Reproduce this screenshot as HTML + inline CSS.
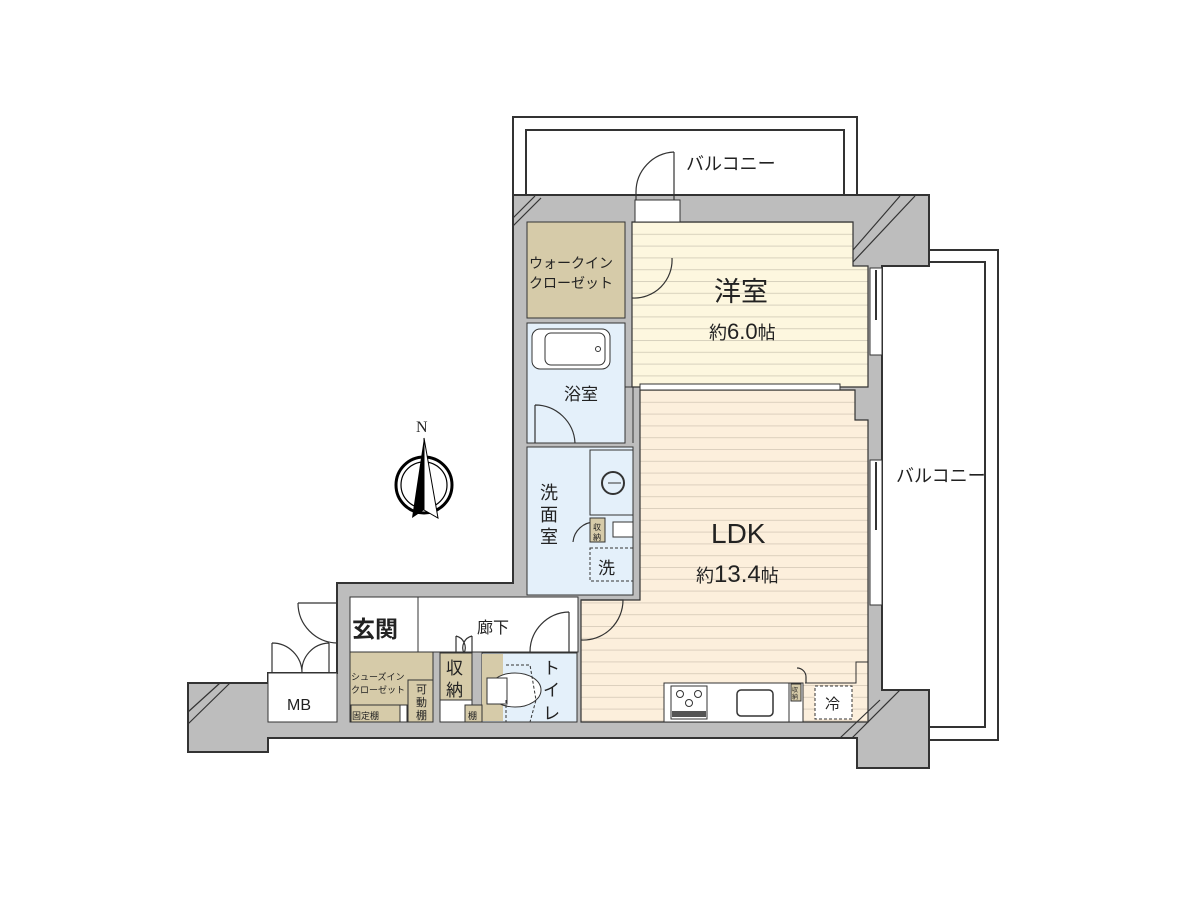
<!DOCTYPE html>
<html><head><meta charset="utf-8"><style>
html,body{margin:0;padding:0;background:#fff;}
svg{display:block;}
text{font-family:"Liberation Sans","Noto Sans CJK JP",sans-serif;fill:#222;}
</style></head><body>
<svg width="1200" height="900" viewBox="0 0 1200 900" xmlns="http://www.w3.org/2000/svg">
<defs>
<pattern id="st1" x="0" y="222" width="10" height="11.8" patternUnits="userSpaceOnUse">
<rect width="10" height="11.8" fill="#fdf7df"/><line x1="0" y1="0.5" x2="10" y2="0.5" stroke="#d8d2bd" stroke-width="1"/></pattern>
<pattern id="st2" x="0" y="390" width="10" height="11.8" patternUnits="userSpaceOnUse">
<rect width="10" height="11.8" fill="#fcefdc"/><line x1="0" y1="0.5" x2="10" y2="0.5" stroke="#dcd0bd" stroke-width="1"/></pattern>
</defs>

<rect x="513" y="117" width="344" height="80" fill="#fff" stroke="#333" stroke-width="2"/>
<path d="M526 195 V130 H844 V195" fill="none" stroke="#333" stroke-width="2"/>
<text x="686" y="170" font-size="18">バルコニー</text>
<rect x="882" y="250" width="116" height="490" fill="#fff" stroke="#333" stroke-width="2"/>
<rect x="882" y="262" width="103" height="465" fill="#fff" stroke="#333" stroke-width="2"/>
<text x="896" y="482" font-size="18">バルコニー</text>

<path d="M513 195 H929 V266 H882 V690 H929 V768 H857 V738 H268 V752 H188 V683 H268 V673 H337 V583 H513 Z" fill="#bdbdbd" stroke="#333" stroke-width="2"/>

<rect x="527" y="222" width="98" height="96" fill="#d6cba9" stroke="#333" stroke-width="1"/>
<path d="M632 222 H853 V266 H868 V387 H632 Z" fill="url(#st1)" stroke="#333" stroke-width="1.2"/>
<rect x="527" y="323" width="98" height="120" fill="#e4f0fa" stroke="#333" stroke-width="1"/>
<path d="M625 323 V387 H633 V443" fill="none" stroke="#333"/>
<rect x="527" y="447" width="106" height="148" fill="#e4f0fa" stroke="#333" stroke-width="1"/>
<path d="M640 390 H855 V420 H868 V722 H581 V600 H640 Z" fill="url(#st2)" stroke="#333" stroke-width="1.2"/>
<rect x="350" y="597" width="228" height="55" fill="#fff" stroke="#333" stroke-width="1"/>
<line x1="418" y1="597" x2="418" y2="652" stroke="#333"/>
<rect x="350" y="652" width="83" height="70" fill="#d6cba9" stroke="#333"/>
<rect x="440" y="653" width="32" height="47" fill="#d6cba9" stroke="#333"/>
<rect x="440" y="700" width="32" height="22" fill="#fff" stroke="#333"/>
<rect x="482" y="653" width="95" height="69" fill="#e4f0fa" stroke="#333"/>
<rect x="482" y="654" width="21" height="67" fill="#d6cba9" stroke="none"/>
<rect x="268" y="673" width="69" height="49" fill="#fff" stroke="#333"/>
<rect x="408" y="680" width="25" height="42" fill="#d6cba9" stroke="#333"/>
<rect x="351" y="705" width="54" height="17" fill="#d6cba9" stroke="#333"/>
<rect x="400" y="705" width="7" height="17" fill="#fff" stroke="#333"/>
<rect x="465" y="705" width="17" height="17" fill="#d6cba9" stroke="#333"/>

<g stroke="#333" stroke-width="1.2">
<line x1="513" y1="218" x2="535" y2="196"/><line x1="513" y1="226" x2="541" y2="198"/>
<line x1="853" y1="250" x2="900" y2="196"/><line x1="853" y1="262" x2="915" y2="196"/>
<line x1="188" y1="712" x2="220" y2="683"/><line x1="188" y1="724" x2="230" y2="683"/>
<line x1="840" y1="738" x2="880" y2="700"/><line x1="852" y1="738" x2="900" y2="690"/>
</g>

<g fill="#fff" stroke="#333">
<rect x="870" y="268" width="12" height="87"/><rect x="870" y="460" width="12" height="145"/>
<rect x="640" y="384" width="200" height="6"/>
<rect x="635" y="200" width="45" height="22"/>
</g>
<line x1="876" y1="270" x2="876" y2="320" stroke="#333" stroke-width="2"/>
<line x1="876" y1="462" x2="876" y2="530" stroke="#333" stroke-width="2"/>

<g fill="none" stroke="#333" stroke-width="1.2">
<path d="M674 152 V200 M674 152 A40 40 0 0 0 636 192 V200"/>
<path d="M632 298 A38 38 0 0 0 672 258"/>
<path d="M535 405 A40 40 0 0 1 575 443 M535 405 V443"/>
<path d="M573 542 A22 22 0 0 1 595 522"/>
<path d="M298 603 H337 M298 603 A40 40 0 0 0 337 643"/>
<path d="M272 643 V673 M272 643 A30 30 0 0 1 302 673 M329 643 V673 M329 643 A28 28 0 0 0 302 673"/>
<path d="M456 636 V653 M456 636 A12 12 0 0 1 464 653 M472 636 V653 M472 636 A12 12 0 0 0 464 653"/>
<path d="M569 612 V652 M569 612 A40 40 0 0 0 530 652"/>
<path d="M581 600 H623 A40 40 0 0 1 581 640"/>
<path d="M797 668 A9 9 0 0 1 806 677 V683"/>
</g>

<rect x="532" y="329" width="78" height="40" rx="8" fill="#fff" stroke="#333"/>
<rect x="545" y="333" width="60" height="32" rx="6" fill="none" stroke="#333"/>
<circle cx="598" cy="349" r="2.5" fill="none" stroke="#333"/>
<rect x="590" y="450" width="43" height="65" fill="#e4f0fa" stroke="#333"/>
<circle cx="613" cy="483" r="11" fill="none" stroke="#333" stroke-width="2"/>
<line x1="608" y1="483" x2="621" y2="483" stroke="#333"/>
<rect x="590" y="518" width="15" height="24" fill="#d6cba9" stroke="#333"/>
<text x="593" y="530" font-size="8">収</text><text x="593" y="540" font-size="8">納</text>
<rect x="613" y="522" width="20" height="15" fill="#fff" stroke="#333"/>
<rect x="590" y="548" width="43" height="33" fill="none" stroke="#333" stroke-dasharray="3 2"/>
<text x="598" y="574" font-size="17">洗</text>

<ellipse cx="515" cy="690" rx="26" ry="17" fill="#fff" stroke="#333"/>
<rect x="487" y="678" width="20" height="26" fill="#fff" stroke="#333"/>
<path d="M506 665 H530 L536 700 L530 722 M506 700 V722" fill="none" stroke="#333" stroke-dasharray="3 2"/>

<rect x="664" y="683" width="125" height="39" fill="#fff" stroke="#333"/>
<rect x="671" y="686" width="36" height="33" fill="#fff" stroke="#333"/>
<circle cx="680" cy="694" r="3.5" fill="none" stroke="#333"/><circle cx="698" cy="694" r="3.5" fill="none" stroke="#333"/><circle cx="689" cy="703" r="3.5" fill="none" stroke="#333"/>
<rect x="672" y="711" width="34" height="6" fill="#555"/>
<rect x="737" y="690" width="36" height="26" rx="4" fill="#fff" stroke="#333" stroke-width="1.5"/>
<rect x="789" y="683" width="14" height="39" fill="#fff" stroke="#333"/>
<rect x="791" y="684" width="10" height="17" fill="#d6cba9" stroke="#333"/>
<text x="792" y="692" font-size="6">収</text><text x="792" y="699" font-size="6">納</text>
<path d="M805 683 H856 V662 H868" fill="none" stroke="#333"/>
<rect x="815" y="686" width="37" height="33" fill="#fff" stroke="#333" stroke-dasharray="3 2"/>
<text x="825" y="709" font-size="15">冷</text>

<circle cx="424" cy="485" r="28" fill="none" stroke="#000" stroke-width="3"/>
<circle cx="424" cy="485" r="23" fill="none" stroke="#000" stroke-width="1.2"/>
<path d="M424 438 L412 518 L424 510 Z" fill="#000"/>
<path d="M424 438 L438 518 L424 510 Z" fill="#fff" stroke="#000"/>
<text x="416" y="432" font-size="16" style="font-family:'Liberation Serif',serif">N</text>

<text x="529" y="268" font-size="14">ウォークイン</text>
<text x="529" y="288" font-size="14">クローゼット</text>
<text x="714" y="301" font-size="27">洋室</text>
<text x="709" y="339" font-size="18">約<tspan font-size="22">6.0</tspan>帖</text>
<text x="564" y="400" font-size="17">浴室</text>
<text x="540" y="499" font-size="18">洗</text>
<text x="540" y="521" font-size="18">面</text>
<text x="540" y="543" font-size="18">室</text>
<text x="711" y="543" font-size="28">LDK</text>
<text x="696" y="582" font-size="18">約<tspan font-size="24">13.4</tspan>帖</text>
<text x="352" y="637" font-size="23" font-weight="bold">玄関</text>
<text x="477" y="633" font-size="16">廊下</text>
<text x="351" y="680" font-size="9">シューズイン</text>
<text x="351" y="693" font-size="9">クローゼット</text>
<text x="352" y="719" font-size="9">固定棚</text>
<text x="416" y="693" font-size="11">可</text><text x="416" y="706" font-size="11">動</text><text x="416" y="719" font-size="11">棚</text>
<text x="446" y="674" font-size="17">収</text><text x="446" y="696" font-size="17">納</text>
<text x="468" y="719" font-size="9">棚</text>
<text x="543" y="674" font-size="17">ト</text><text x="543" y="696" font-size="17">イ</text><text x="543" y="719" font-size="17">レ</text>
<text x="287" y="710" font-size="16">MB</text>
</svg>
</body></html>
